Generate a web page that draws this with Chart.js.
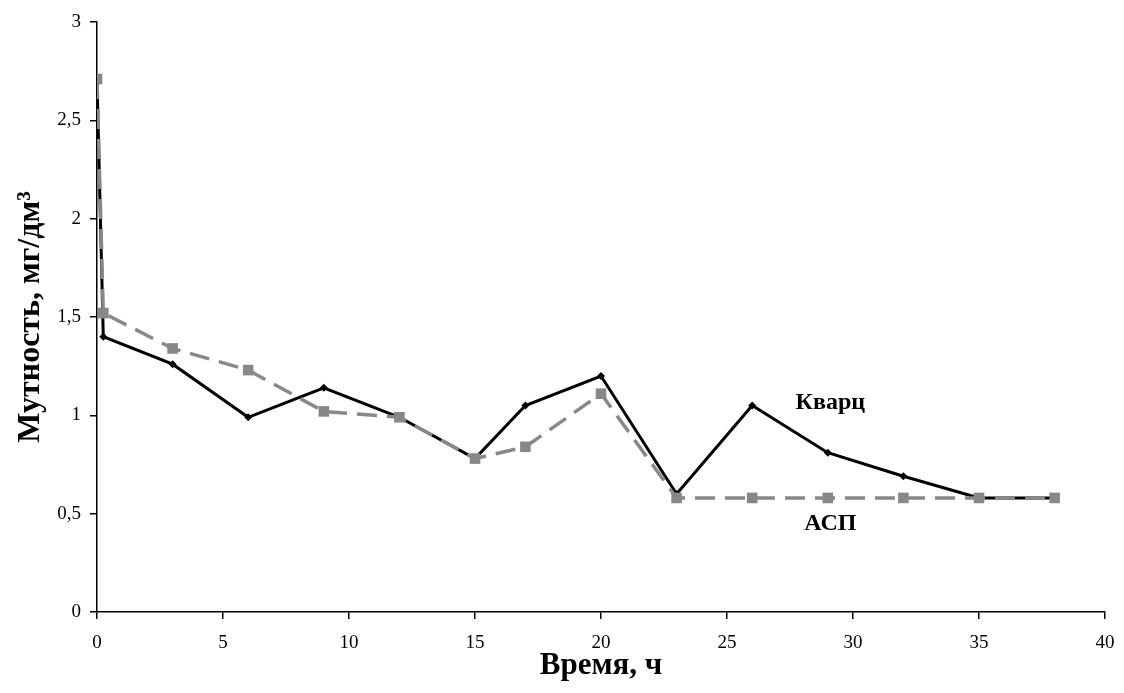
<!DOCTYPE html>
<html>
<head>
<meta charset="utf-8">
<script src="https://cdn.jsdelivr.net/npm/chart.js@4"></script>
<style>
html,body{margin:0;padding:0;background:#fff;}
#wrap{width:1124px;height:693px;}
</style>
</head>
<body>
<div id="wrap"><canvas id="c" width="1124" height="693"></canvas></div>
<script>
const timeH = [0, 0.25, 3, 6, 9, 12, 15, 17, 20, 23, 26, 29, 32, 35, 38];
const kvarc = [2.71, 1.40, 1.26, 0.99, 1.14, 0.99, 0.78, 1.05, 1.20, 0.60, 1.05, 0.81, 0.69, 0.58, 0.58];
const asp   = [2.71, 1.52, 1.34, 1.23, 1.02, 0.99, 0.78, 0.84, 1.11, 0.58, 0.58, 0.58, 0.58, 0.58, 0.58];
const seriesNames = ['АСП', 'Кварц'];
const xTitle = 'Время, ч';
const yTitle = 'Мутность, мг/дм³';
const labelPos = { 'Кварц': [29.1, 1.065], 'АСП': [29.1, 0.45] };

const toXY = (xs, ys) => xs.map((x, i) => ({x: x, y: ys[i]}));

const labelPlugin = {
  id: 'seriesLabels',
  afterDatasetsDraw(chart) {
    const ctx = chart.ctx;
    const xs = chart.scales.x, ys = chart.scales.y;
    ctx.save();
    ctx.font = 'bold 24px "Liberation Serif", "Times New Roman", serif';
    ctx.fillStyle = '#000';
    ctx.textAlign = 'center';
    ctx.textBaseline = 'middle';
    for (const name of seriesNames) {
      const p = labelPos[name];
      ctx.fillText(name, xs.getPixelForValue(p[0]), ys.getPixelForValue(p[1]));
    }
    ctx.restore();
  }
};

const serif = '"Liberation Serif", "Times New Roman", serif';

new Chart(document.getElementById('c'), {
  type: 'line',
  data: {
    datasets: [
      {
        label: seriesNames[0],
        data: toXY(timeH, asp),
        borderColor: '#888888',
        backgroundColor: '#888888',
        borderWidth: 3.5,
        borderDash: [20, 10],
        pointStyle: 'rect',
        pointRadius: 7.5,
        pointBorderWidth: 0,
        tension: 0,
        order: 0
      },
      {
        label: seriesNames[1],
        data: toXY(timeH, kvarc),
        borderColor: '#000',
        backgroundColor: '#000',
        borderWidth: 3,
        pointStyle: 'rectRot',
        pointRadius: 4,
        pointBorderWidth: 0,
        tension: 0,
        order: 1
      }
    ]
  },
  options: {
    responsive: false,
    animation: false,
    devicePixelRatio: 1,
    layout: { padding: { top: 22, right: 19, left: 0, bottom: 0 } },
    plugins: { legend: { display: false }, tooltip: { enabled: false } },
    scales: {
      x: {
        type: 'linear',
        min: 0, max: 40,
        afterFit(s) { s.height = 81; s.paddingLeft = 0; s.paddingRight = 0; },
        ticks: { stepSize: 5, color: '#000', font: { family: serif, size: 19 }, padding: 13,
                 callback: v => String(v) },
        grid: { drawOnChartArea: false, drawTicks: true, tickLength: 7, color: '#000', lineWidth: 1.5 },
        border: { display: true, color: '#000', width: 1.5 },
        title: { display: true, text: xTitle, color: '#000', font: { family: serif, size: 31, weight: 'bold' }, padding: { top: 0, bottom: 8 } }
      },
      y: {
        min: 0, max: 3,
        afterFit(s) { s.width = 97; s.paddingTop = 0; s.paddingBottom = 0; },
        ticks: { stepSize: 0.5, color: '#000', font: { family: serif, size: 19 }, padding: 9,
                 callback: v => String(v).replace('.', ',') },
        grid: { drawOnChartArea: false, drawTicks: true, tickLength: 7, color: '#000', lineWidth: 1.5 },
        border: { display: true, color: '#000', width: 1.5 },
        title: { display: true, text: yTitle, color: '#000', font: { family: serif, size: 32, weight: 'bold' }, padding: { top: 12, bottom: 0 } }
      }
    }
  },
  plugins: [labelPlugin]
});
</script>
</body>
</html>
